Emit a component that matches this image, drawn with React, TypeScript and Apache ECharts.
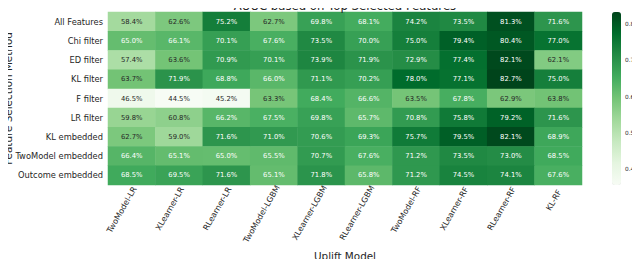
import React, { useEffect, useRef } from "react";
import * as echarts from "echarts";

const models = [
  "TwoModel-LR",
  "XLearner-LR",
  "RLearner-LR",
  "TwoModel-LGBM",
  "XLearner-LGBM",
  "RLearner-LGBM",
  "TwoModel-RF",
  "XLearner-RF",
  "RLearner-RF",
  "KL-RF",
];

const methods = [
  "All Features",
  "Chi filter",
  "ED filter",
  "KL filter",
  "F filter",
  "LR filter",
  "KL embedded",
  "TwoModel embedded",
  "Outcome embedded",
];

const allFeatures = [58.4, 62.6, 75.2, 62.7, 69.8, 68.1, 74.2, 73.5, 81.3, 71.6];
const chiFilter = [65.0, 66.1, 70.1, 67.6, 73.5, 70.0, 75.0, 79.4, 80.4, 77.0];
const edFilter = [57.4, 63.6, 70.9, 70.1, 73.9, 71.9, 72.9, 77.4, 82.1, 62.1];
const klFilter = [63.7, 71.9, 68.8, 66.0, 71.1, 70.2, 78.0, 77.1, 82.7, 75.0];
const fFilter = [46.5, 44.5, 45.2, 63.3, 68.4, 66.6, 63.5, 67.8, 62.9, 63.8];
const lrFilter = [59.8, 60.8, 66.2, 67.5, 69.8, 65.7, 70.8, 75.8, 79.2, 71.6];
const klEmbedded = [62.7, 59.0, 71.6, 71.0, 70.6, 69.3, 75.7, 79.5, 82.1, 68.9];
const twoModelEmbedded = [66.4, 65.1, 65.0, 65.5, 70.7, 67.6, 71.2, 73.5, 73.0, 68.5];
const outcomeEmbedded = [68.5, 69.5, 71.6, 65.1, 71.8, 65.8, 71.2, 74.5, 74.1, 67.6];

const rows = [
  allFeatures,
  chiFilter,
  edFilter,
  klFilter,
  fFilter,
  lrFilter,
  klEmbedded,
  twoModelEmbedded,
  outcomeEmbedded,
];

const colorbarTicks = [0.48, 0.56, 0.64, 0.72, 0.8];

const GREENS = [
  "#f7fcf5",
  "#e5f5e0",
  "#c7e9c0",
  "#a1d99b",
  "#74c476",
  "#41ab5d",
  "#238b45",
  "#006d2c",
  "#00441b",
];

const FONT = '"DejaVu Sans", sans-serif';
const DARK = "#262626";

function hexToRgb(h: string) {
  return [1, 3, 5].map((i) => parseInt(h.slice(i, i + 2), 16));
}

function cmap(t: number) {
  const c = Math.max(0, Math.min(1, t)) * (GREENS.length - 1);
  const i = Math.min(GREENS.length - 2, Math.floor(c));
  const f = c - i;
  const a = hexToRgb(GREENS[i]);
  const b = hexToRgb(GREENS[i + 1]);
  return a.map((v, k) => v + (b[k] - v) * f);
}

function luminance(rgb: number[]) {
  const lin = rgb.map((v) => {
    const s = v / 255;
    return s <= 0.03928 ? s / 12.92 : Math.pow((s + 0.055) / 1.055, 2.4);
  });
  return 0.2126 * lin[0] + 0.7152 * lin[1] + 0.0722 * lin[2];
}

export default function App() {
  const ref = useRef<HTMLDivElement>(null);

  useEffect(() => {
    if (!ref.current) return;
    const chart = echarts.init(ref.current, undefined, { renderer: "svg" });

    const flat = rows.flat().map((v) => v / 100);
    const vmin = Math.min(...flat);
    const vmax = Math.max(...flat);

    const data: any[] = [];
    rows.forEach((row, yi) => {
      row.forEach((v, xi) => {
        const val = v / 100;
        const rgb = cmap((val - vmin) / (vmax - vmin));
        const lum = luminance(rgb);
        data.push({
          value: [xi, yi, val],
          label: { color: lum > 0.408 ? DARK : "#ffffff" },
        });
      });
    });

    const xFontSize = 8;
    const canvas = document.createElement("canvas");
    const ctx = canvas.getContext("2d")!;
    ctx.font = `${xFontSize}px "DejaVu Sans"`;
    // shift each rotated label so that its bounding box is centred on the tick
    const xData = models.map((m) => {
      const L = ctx.measureText(m).width;
      return {
        value: m,
        textStyle: {
          padding: [0.433 * L, -0.125 * L, 0, 0],
        },
      };
    });

    const gridTop = 12;
    const gridH = 173;

    chart.setOption({
      animation: false,
      textStyle: { fontFamily: FONT },
      title: {
        text: "AUUC based on Top Selected Features",
        left: 345,
        textAlign: "center",
        top: 1.5,
        padding: 0,
        z: 10,
        textStyle: {
          fontFamily: FONT,
          fontSize: 11.7,
          lineHeight: 9,
          fontWeight: "normal",
          color: DARK,
        },
      },
      grid: [
        {
          left: 108,
          top: gridTop,
          width: 474,
          height: gridH,
          containLabel: false,
          outerBoundsMode: "none",
        },
        {
          left: 612,
          top: gridTop,
          width: 9,
          height: gridH,
          containLabel: false,
          outerBoundsMode: "none",
        },
      ],
      xAxis: [
        {
          type: "category",
          data: xData,
          gridIndex: 0,
          position: "bottom",
          axisLine: { show: false },
          axisTick: { show: false },
          splitLine: { show: false },
          axisLabel: {
            interval: 0,
            rotate: 60,
            margin: 8,
            fontSize: xFontSize,
            fontFamily: FONT,
            color: DARK,
            hideOverlap: false,
          },
          name: "Uplift Model",
          nameLocation: "middle",
          nameGap: 66,
          nameMoveOverlap: false,
          nameTextStyle: { fontFamily: FONT, fontSize: 10.4, color: DARK },
        },
        { type: "value", gridIndex: 1, show: false, min: 0, max: 1 },
      ],
      yAxis: [
        {
          type: "category",
          data: methods,
          inverse: true,
          gridIndex: 0,
          axisLine: { show: false },
          axisTick: { show: false },
          splitLine: { show: false },
          axisLabel: {
            interval: 0,
            margin: 5,
            fontSize: 8.3,
            fontFamily: FONT,
            color: DARK,
          },
          name: "Feature Selection Method",
          nameLocation: "middle",
          nameGap: 95,
          nameMoveOverlap: false,
          nameTextStyle: { fontFamily: FONT, fontSize: 10.4, color: DARK },
        },
        {
          type: "value",
          gridIndex: 1,
          position: "right",
          min: vmin,
          max: vmax,
          axisLine: { show: false },
          splitLine: { show: false },
          axisTick: {
            show: true,
            length: 3,
            customValues: colorbarTicks,
            lineStyle: { color: DARK, width: 0.8 },
          },
          axisLabel: {
            show: true,
            customValues: colorbarTicks,
            margin: 4,
            fontSize: 5.8,
            fontFamily: FONT,
            color: DARK,
            formatter: (v: number) => v.toFixed(2),
          },
        },
      ],
      visualMap: {
        type: "continuous",
        min: vmin,
        max: vmax,
        dimension: 2,
        seriesIndex: 0,
        orient: "vertical",
        left: 612,
        top: gridTop,
        itemWidth: 9,
        itemHeight: gridH,
        padding: 0,
        text: null,
        calculable: false,
        hoverLink: false,
        inRange: { color: GREENS },
      },
      series: [
        {
          type: "heatmap",
          xAxisIndex: 0,
          yAxisIndex: 0,
          data,
          label: {
            show: true,
            fontSize: 6.8,
            fontFamily: FONT,
            formatter: (p: any) => (p.value[2] * 100).toFixed(1) + "%",
          },
          emphasis: { disabled: true },
          itemStyle: { borderWidth: 0 },
        },
      ],
    });

    return () => chart.dispose();
  }, []);

  return <div ref={ref} style={{ width: 640, height: 267, margin: -8 }} />;
}
